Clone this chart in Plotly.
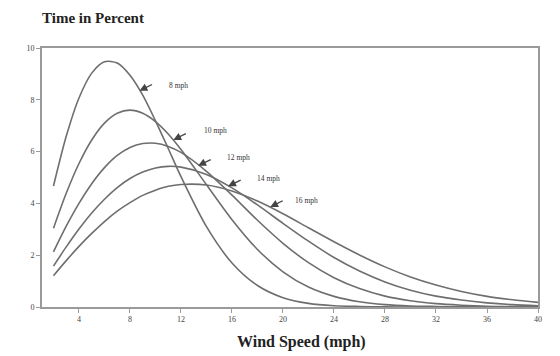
import plotly.graph_objects as go

# Wind speed (mph) sample positions
speed = [2, 3, 4, 5, 6, 7, 8, 9, 10, 11, 12, 14, 16, 18, 20, 22, 24, 26, 28, 30, 32, 34, 36, 38, 40]

# Time in percent for each mean wind speed curve
pct_8 = [4.67, 6.59, 8.07, 9.03, 9.47, 9.42, 8.95, 8.18, 7.19, 6.12, 5.03, 3.10, 1.70, 0.83, 0.36, 0.14, 0.05, 0.02, 0.005, 0.0, 0.0, 0.0, 0.0, 0.0, 0.0]
pct_10 = [3.04, 4.39, 5.54, 6.45, 7.10, 7.48, 7.60, 7.48, 7.16, 6.68, 6.08, 4.72, 3.37, 2.22, 1.36, 0.77, 0.41, 0.20, 0.09, 0.04, 0.02, 0.006, 0.002, 0.0, 0.0]
pct_12 = [2.13, 3.12, 4.00, 4.76, 5.38, 5.85, 6.16, 6.31, 6.32, 6.20, 5.97, 5.24, 4.32, 3.35, 2.46, 1.71, 1.13, 0.71, 0.42, 0.24, 0.13, 0.07, 0.03, 0.016, 0.007]
pct_14 = [1.58, 2.32, 3.01, 3.63, 4.16, 4.61, 4.96, 5.21, 5.37, 5.43, 5.40, 5.12, 4.60, 3.94, 3.23, 2.54, 1.91, 1.39, 0.97, 0.65, 0.42, 0.27, 0.16, 0.09, 0.05]
pct_16 = [1.21, 1.79, 2.34, 2.84, 3.30, 3.70, 4.03, 4.31, 4.51, 4.66, 4.73, 4.71, 4.48, 4.09, 3.60, 3.06, 2.52, 2.01, 1.55, 1.16, 0.85, 0.60, 0.41, 0.28, 0.18]

series = [pct_8, pct_10, pct_12, pct_14, pct_16]
labels = ["8 mph", "10 mph", "12 mph", "14 mph", "16 mph"]

# label annotation anchors (arrow tip on curve, text position)
tip_x = [8.75, 11.4, 13.35, 15.7, 19.0]
tip_y = [8.35, 6.45, 5.45, 4.66, 3.86]
txt_x = [10.9, 13.65, 15.45, 17.8, 20.8]
txt_y = [8.57, 6.8, 5.79, 4.98, 4.13]

x_ticks = [4, 8, 12, 16, 20, 24, 28, 32, 36, 40]
y_ticks = [0, 2, 4, 6, 8, 10]

line_col = "#6e6e6e"
fig = go.Figure()
for s, name in zip(series, labels):
    fig.add_trace(go.Scatter(x=speed, y=s, mode="lines", name=name,
                             line=dict(color=line_col, width=1.6, shape="spline", smoothing=0.8),
                             showlegend=False, hoverinfo="skip"))

for i, lab in enumerate(labels):
    fig.add_annotation(x=tip_x[i], y=tip_y[i], ax=14, ay=-7, text="",
                       showarrow=True, arrowhead=2, arrowsize=1.2, arrowwidth=1.3,
                       arrowcolor="#444", xref="x", yref="y")
    fig.add_annotation(x=txt_x[i], y=txt_y[i], text=lab, showarrow=False,
                       xanchor="left", yanchor="middle",
                       font=dict(family="Liberation Serif", size=7.5, color="#333"))

fig.add_annotation(text="<b>Time in Percent</b>", xref="paper", yref="paper",
                   x=-0.004, y=1.116, xanchor="left", yanchor="middle", showarrow=False,
                   font=dict(family="Liberation Serif", size=15, color="#222"))
fig.add_annotation(text="<b>Wind Speed (mph)</b>", xref="paper", yref="paper",
                   x=0.524, y=-0.135, xanchor="center", yanchor="middle", showarrow=False,
                   font=dict(family="Liberation Serif", size=16, color="#222"))

axis_common = dict(showline=True, linecolor="#9a9a9a", linewidth=1.6, mirror=True,
                   ticks="outside", ticklen=4, tickcolor="#9a9a9a", tickwidth=1.2,
                   showgrid=False, zeroline=False,
                   tickfont=dict(family="Liberation Serif", size=8, color="#444"))

fig.update_xaxes(range=[1.1, 40], tickvals=x_ticks, **axis_common)
fig.update_yaxes(range=[0, 10], tickvals=y_ticks, **axis_common)

fig.update_layout(width=560, height=356, margin=dict(l=42, r=22, t=48, b=49),
                  paper_bgcolor="white", plot_bgcolor="white")

fig.write_html("out.html", config={"displayModeBar": False},
               post_script="document.body.style.margin='0';")
